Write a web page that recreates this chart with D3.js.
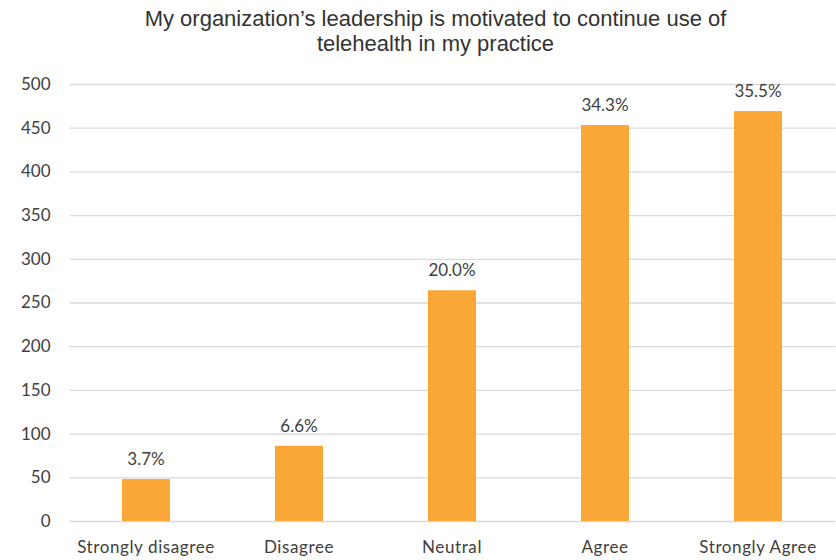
<!DOCTYPE html>
<html><head><meta charset="utf-8">
<script src="https://cdn.jsdelivr.net/npm/d3@7"></script>
<style>body{margin:0;background:#fff}</style>
</head><body>
<svg id="chart" width="836" height="560"></svg>
<script>
const categories = ["Strongly disagree", "Disagree", "Neutral", "Agree", "Strongly Agree"];
const values = [48, 86, 264, 453, 469];
const pctLabels = ["3.7%", "6.6%", "20.0%", "34.3%", "35.5%"];
const yTicks = [0, 50, 100, 150, 200, 250, 300, 350, 400, 450, 500];
const titleLines = ["My organization\u2019s leadership is motivated to continue use of", "telehealth in my practice"];

(function () {
const svg = d3.select("#chart");
const plotLeft = 69.5, plotRight = 834.5, plotTop = 84, plotBottom = 521;
const x = d3.scaleBand().domain(categories).range([plotLeft, plotRight]).paddingInner(0.686).paddingOuter(0.343);
const y = d3.scaleLinear().domain([0, 500]).range([plotBottom, plotTop]);
const font = "Lato, Carlito, sans-serif";
const textCol = "#404040";

svg.append("g").selectAll("text").data(titleLines).join("text")
  .attr("x", 435.5).attr("y", (d, i) => 26 + i * 24.5)
  .attr("text-anchor", "middle").attr("font-family", "'Liberation Sans', Arial, sans-serif")
  .attr("font-size", 22).attr("fill", "#333333").text(d => d);

const yAxis = d3.axisLeft(y).tickValues(yTicks).tickSize(-(plotRight - plotLeft + 1)).tickPadding(19);
const gy = svg.append("g").attr("transform", `translate(${plotLeft},0)`).call(yAxis);
gy.select(".domain").remove();
gy.selectAll(".tick line").attr("stroke", "#d9d9d9").attr("stroke-width", 1.3);
gy.selectAll(".tick text").attr("font-family", font).attr("font-size", 17).attr("fill", textCol);

svg.append("g").selectAll("rect").data(values).join("rect")
  .attr("x", (d, i) => x(categories[i])).attr("width", x.bandwidth())
  .attr("y", d => y(d)).attr("height", d => y(0) - y(d)).attr("fill", "#F9A736");

svg.append("g").selectAll("text").data(values).join("text")
  .attr("x", (d, i) => x(categories[i]) + x.bandwidth() / 2).attr("y", d => y(d) - 14)
  .attr("text-anchor", "middle").attr("font-family", font).attr("font-size", 17).attr("fill", textCol)
  .text((d, i) => pctLabels[i]);

const xAxis = d3.axisBottom(x).tickSize(0).tickPadding(20);
const gx = svg.append("g").attr("transform", `translate(0,${plotBottom})`).call(xAxis);
gx.select(".domain").remove();
gx.selectAll(".tick text").attr("font-family", font).attr("font-size", 17).attr("fill", textCol)
  .attr("letter-spacing", 0.6);
})();
</script>
</body></html>
